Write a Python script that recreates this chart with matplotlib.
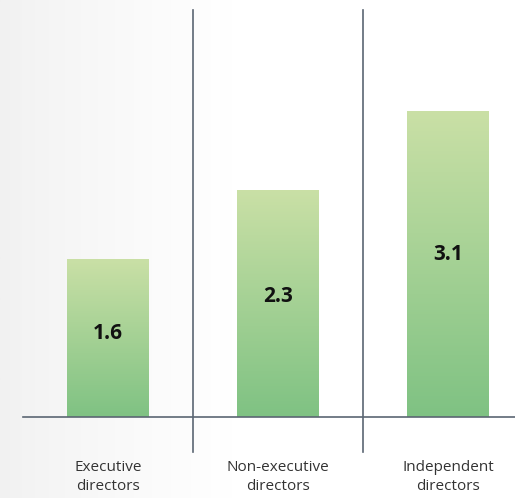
import numpy as np
import matplotlib
matplotlib.use("Agg")
import matplotlib.pyplot as plt
from matplotlib.colors import LinearSegmentedColormap

categories = ["Executive\ndirectors", "Non-executive\ndirectors", "Independent\ndirectors"]
values = [1.6, 2.3, 3.1]
value_labels = ["1.6", "2.3", "3.1"]

W, H = 515, 498
fig = plt.figure(figsize=(W / 100, H / 100), dpi=100)

# soft grey-to-white page background
bg = fig.add_axes([0, 0, 1, 1], zorder=-10)
grad = np.linspace(0, 1, 256)
bg_vals = np.clip(grad / 0.45, 0, 1)[None, :] ** 0.8
bg_cmap = LinearSegmentedColormap.from_list("bg", ["#f1f1f1", "#ffffff"])
bg.imshow(bg_vals, cmap=bg_cmap, aspect="auto", extent=[0, 1, 0, 1], vmin=0, vmax=1)
bg.set_axis_off()

ax = fig.add_axes([23 / W, (H - 417) / H, 1 - 23 / W, (417 - 10) / H])
ax.patch.set_alpha(0)
ymax = 4.12
ax.set_xlim(-0.5, 2.394)
ax.set_ylim(0, ymax)

x = np.arange(len(values))
bars = ax.bar(x, values, width=0.48, color="none", edgecolor="none", zorder=2)

bar_cmap = LinearSegmentedColormap.from_list("bar", ["#7fc283", "#cae0a6"])
for rect, v in zip(bars, values):
    x0 = rect.get_x()
    w = rect.get_width()
    im = ax.imshow(np.linspace(0, 1, 256)[:, None], cmap=bar_cmap, origin="lower",
                   aspect="auto", extent=[x0, x0 + w, 0, v], zorder=2)
    im.set_clip_path(rect)

ax.set_xlim(-0.5, 2.394)
ax.set_ylim(0, ymax)

for xi, v, lab in zip(x, values, value_labels):
    ax.text(xi, v * 0.53, lab, ha="center", va="center", fontsize=15,
            fontweight="bold", color="#111111", family="Open Sans", zorder=3)

# baseline
ax.axhline(0, color="#5b6673", lw=1.2, zorder=4, clip_on=False)

# category separators
sep_bottom = -(452 - 417) / 98.8
for sx in [0.5, 1.5]:
    ax.plot([sx, sx], [sep_bottom, ymax], color="#5b6673", lw=1.2,
            clip_on=False, zorder=4)

for xi, cat in zip(x, categories):
    ax.text(xi, -(477 - 417) / 98.8, cat, ha="center", va="center", fontsize=11,
            color="#333333", family="Open Sans", linespacing=1.45)

for s in ax.spines.values():
    s.set_visible(False)
ax.set_xticks([])
ax.set_yticks([])

fig.savefig("out.png", dpi=100)
